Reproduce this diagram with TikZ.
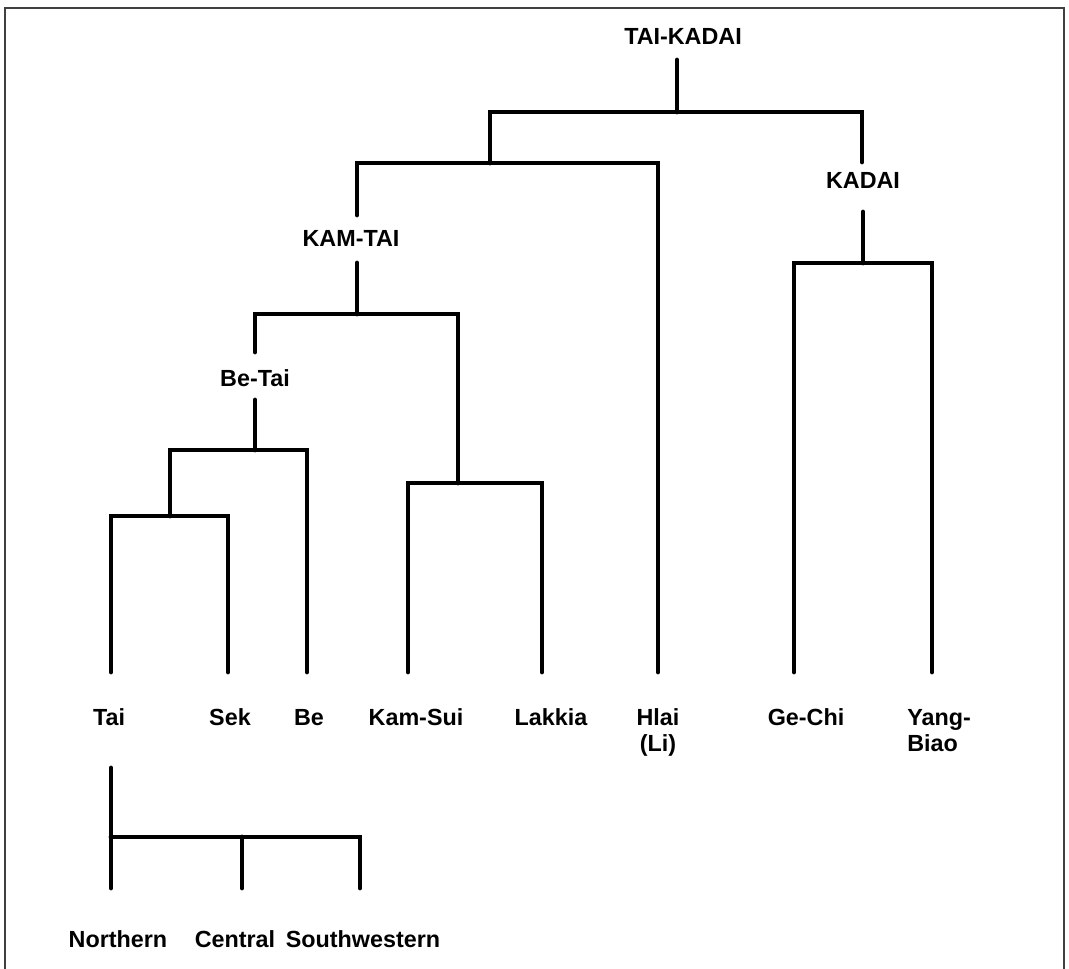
\documentclass[tikz,border=0pt]{standalone}
\usepackage{fontspec}
\setmainfont{Liberation Sans}
\usetikzlibrary{positioning}
\tikzset{
  lab/.style={font=\bfseries\fontsize{17.5}{19.5}\selectfont, inner sep=0pt, anchor=base, align=center},
  tree/.style={line width=3.6pt, line cap=round, line join=miter},
  frame/.style={line width=1pt, draw=black!75}
}
\begin{document}
\begin{tikzpicture}[x=0.75pt,y=-0.75pt]
\useasboundingbox (0,0) rectangle (1069,969);
\draw[frame] (5,969) -- (5,8) -- (1064,8) -- (1064,969);
% group labels
\node[lab] (taikadai) at (683,45) {TAI-KADAI};
\node[lab] (kadai) at (863,189) {KADAI};
\node[lab] (kamtai) at (351,247) {KAM-TAI};
\node[lab] (betai) at (255,386) {Be-Tai};
% leaves
\foreach \n/\x/\t in {tai/109/Tai, sek/230/Sek, be/309/Be, kamsui/416/Kam-Sui, lakkia/551/Lakkia, gechi/806/Ge-Chi}
  \node[lab] (\n) at (\x,725) {\t};
\node[lab] (hlai) at (658,751) {Hlai\\(Li)};
\node[lab, anchor=base west, align=left] (yang) at (907,751) {Yang-\\Biao};
\foreach \n/\x/\t in {north/118/Northern, central/235/Central, sw/363/Southwestern}
  \node[lab] (\n) at (\x,947) {\t};
% branch points
\coordinate (top) at (677,112);
\coordinate (kt) at (490,163);
\coordinate (kd) at (863,263);
\coordinate (km) at (357,314);
\coordinate (ks) at (458,483);
\coordinate (bt) at (255,450);
\coordinate (ts) at (170,516);
\coordinate (tx) at (111,837);
\draw[tree] (677,60) -- (top);
\draw[tree] (kt) -- (490,112) -- (862,112) -- (862,162);
\draw[tree] (357,215) -- (357,163) -- (658,163) -- (658,672);
\draw[tree] (863,212) -- (kd);
\draw[tree] (794,672) -- (794,263) -- (932,263) -- (932,672);
\draw[tree] (357,263) -- (km);
\draw[tree] (255,352) -- (255,314) -- (458,314) -- (ks);
\draw[tree] (408,672) -- (408,483) -- (542,483) -- (542,672);
\draw[tree] (255,400) -- (bt);
\draw[tree] (ts) -- (170,450) -- (307,450) -- (307,672);
\draw[tree] (111,672) -- (111,516) -- (228,516) -- (228,672);
\draw[tree] (111,768) -- (111,888);
\draw[tree] (tx) -- (360,837) -- (360,888);
\draw[tree] (242,837) -- (242,888);
\end{tikzpicture}
\end{document}
